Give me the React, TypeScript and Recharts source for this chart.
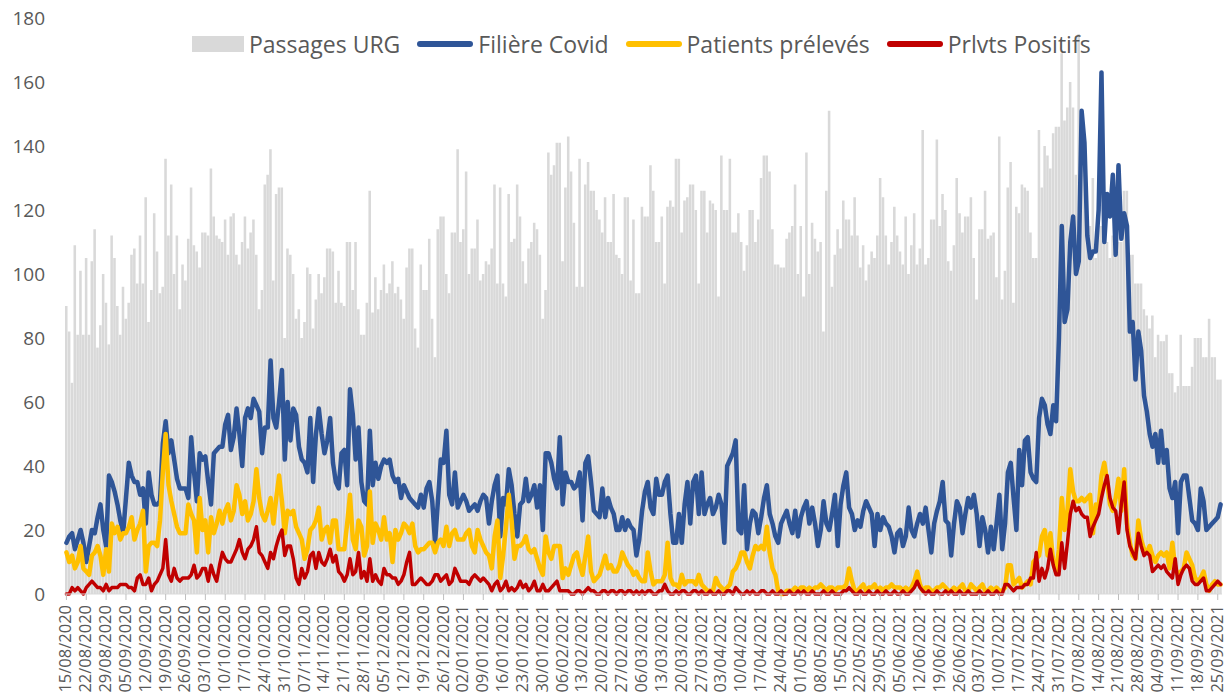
import React from 'react';
import { ComposedChart, Bar, Line, XAxis, YAxis, Legend } from 'recharts';

// First day of the series (15/08/2020); one category per day
const START_DATE = Date.UTC(2020, 7, 15);

const passagesURG = [
  90,82,66,109,81,101,81,105,81,104, 114,77,84,100,91,78,112,105,90,81, 96,86,91,106,108,97,112,97,124,85, 95,119,107,94,96,136,112,128,100,112, 89,103,98,111,127,109,107,102,113,
  113,112,133,118,112,111,110,117,106,118, 119,106,103,110,118,108,113,117,106,89, 95,128,131,139,98,125,127,127,80,108, 106,100,86,89,80,85,102,100,83,92, 100,94,99,108,108,107,91,101,91,90, 110,
  110,95,110,89,81,81,91,126,88,99, 89,95,103,94,97,104,94,96,92,86, 102,108,108,83,77,103,95,95,111,86, 74,114,118,118,100,94,113,113,139,110, 114,132,100,108,108,117,98,100,104,103, 108,
  128,97,127,97,93,125,110,111,128,118, 104,97,108,110,116,114,106,86,95,138, 131,134,141,141,104,127,143,132,116,96, 136,96,128,135,126,126,120,117,113,124, 110,110,125,106,105,100,124,124,98,117, 94,94,
  121,118,118,134,126,110,110,118,97,121, 123,121,136,136,113,123,124,128,128,120, 97,126,126,113,123,122,120,93,137,120, 120,136,113,113,119,110,101,109,120,120, 110,117,130,137,137,132,114,103,103,102,
  102,111,113,115,128,100,115,93,138,100, 116,111,107,110,82,126,151,96,106,114, 108,123,117,117,112,124,112,102,109,98, 103,107,105,112,130,124,112,103,110,121, 112,107,103,118,100,109,119,103,108,145, 103,
  105,117,117,142,115,125,120,104,101,109, 130,119,113,118,118,124,105,92,114,114, 126,111,112,113,99,143,92,101,127,135, 91,121,119,128,127,126,113,105,105,
  145,127,140,137,133,144,146,146,169,148,152,160,
  152,131,175,150,133,115,115,130,105,124, 115,122,110,105,112,110,110,110,126,126, 106,106,97,97,97,89,87,83,87,74, 81,79,79,81,69,69,63,65,81,65, 65,65,71,80,80,80,74,74,86,74, 74,67,67,
];

const filiereCovid = [
  16,18,19,14,17,20,16,10,15,20, 19,24,28,20,15,37,35,32,28,23, 19,30,41,37,35,35,31,33,22,38, 31,28,28,29,47,54,44,48,42,36, 33,33,33,30,49,38,29,44,42,
  43,35,28,44,45,46,46,53,56,45, 49,58,50,40,55,58,55,61,59,57, 44,52,52,73,55,52,60,70,42,60, 48,58,56,46,42,41,38,55,35,50, 58,50,44,48,55,41,35,33,44,45, 34,
  64,56,42,52,35,29,28,51,34,41, 36,40,42,41,42,37,35,36,30,34, 32,30,29,28,27,31,27,33,35,29, 16,29,42,41,51,31,28,38,27,29, 31,29,26,27,28,26,29,31,30,22, 29,
  34,37,18,30,28,39,34,25,18,28, 29,36,29,31,34,27,34,20,44,44, 41,36,33,49,28,38,35,35,33,34, 38,23,41,43,35,26,25,24,33,24, 30,27,25,20,20,24,20,23,21,20, 12,17,
  26,32,35,27,25,36,31,31,35,37, 25,16,16,25,16,28,35,22,35,37, 25,38,25,28,30,25,27,31,28,16, 40,42,44,48,20,19,34,14,22,26, 25,19,24,30,34,25,22,18,16,22,
  24,26,22,19,26,18,24,27,29,22, 27,22,15,20,29,22,20,25,31,15, 28,34,38,27,25,20,23,21,26,29, 27,25,15,25,20,24,22,21,18,13, 19,20,15,18,27,20,18,22,25,22, 27,
  20,13,22,26,29,35,23,22,12,22, 29,27,19,25,30,27,31,25,15,24, 20,13,21,14,22,31,14,22,38,41, 30,20,45,34,48,49,38,36,35,55, 61,59,53,50,59,54,
  80,115,85,89,110,118,100,104,151,141, 112,105,107,107,120,163,110,125,118,131, 106,134,111,119,115,82,85,67,82,76,
  62,57,50,46,50,41,51,41,45,33, 30,35,19,35,37,37,30,23,22,20, 33,29,20,21,22,23,24,28,
];

const patientsPreleves = [
  13,10,12,8,10,15,8,7,6,12, 13,15,12,6,14,7,22,19,21,17, 19,19,21,24,17,20,22,26,7,15, 16,16,15,23,38,50,34,29,25,21, 19,19,19,28,25,23,13,30,20,
  23,13,24,19,22,26,22,26,28,23, 26,34,31,25,29,23,25,29,39,30, 25,23,26,30,22,30,37,29,19,26, 25,26,21,19,17,11,14,20,21,23, 27,17,20,21,16,23,23,14,14,14, 22,
  31,17,14,23,21,12,15,32,16,22, 20,17,24,17,19,10,20,17,19,22, 21,19,22,15,13,14,14,15,16,16, 13,16,17,15,21,15,19,20,17,17, 17,19,20,15,13,20,17,15,13,12, 8,
  18,23,5,12,21,31,23,11,15,15, 16,18,14,13,14,11,8,6,18,13, 11,15,15,15,5,8,6,9,12,13, 9,6,12,18,7,4,5,6,9,12, 8,9,7,7,9,13,11,9,8,6, 7,5,
  4,4,13,7,3,4,4,4,6,16, 5,3,3,2,6,3,4,4,4,3, 6,3,2,1,1,1,5,3,2,1, 2,3,7,8,10,13,13,10,8,12, 15,14,15,14,21,13,8,6,1,0,
  0,1,1,1,2,1,2,2,1,2, 1,2,2,3,2,1,2,2,1,2, 2,2,3,8,4,1,1,2,3,1, 2,2,3,1,2,1,2,2,3,2, 2,2,1,2,1,2,4,7,3,1, 2,
  2,1,1,2,2,3,2,1,1,2, 1,2,3,1,1,3,2,1,2,3, 1,1,2,1,2,1,1,2,9,9, 3,4,5,2,3,4,3,10,11,12, 18,20,12,19,10,7,
  14,30,20,26,39,32,29,29,30,29, 30,31,19,28,27,37,41,35,28,26, 30,36,26,39,22,16,12,11,23,17,
  14,13,15,12,10,12,13,12,13,8, 16,8,6,7,8,13,11,9,5,4, 5,7,3,1,3,4,3,3,
];

const prlvtsPositifs = [
  0,0,2,1,2,1,0,2,3,4, 3,2,2,1,3,1,2,2,2,3, 3,3,2,2,1,5,6,3,3,5, 1,3,4,6,8,17,6,4,8,5, 4,5,5,5,6,9,5,6,8,
  8,4,9,6,4,9,13,11,10,10, 12,14,17,13,11,14,15,17,21,13, 12,10,8,13,11,15,18,20,12,15, 15,11,5,3,8,5,7,12,13,8, 13,10,9,11,14,10,12,7,6,4, 6,
  11,6,7,13,5,7,4,11,4,6, 4,3,8,6,6,5,5,3,4,6, 10,13,3,3,4,5,4,3,3,4, 6,6,4,5,6,3,4,8,6,4, 4,4,3,5,6,5,4,5,4,3, 1,
  3,4,1,2,4,1,2,1,2,4, 2,3,1,2,4,1,1,3,1,1, 2,3,4,1,1,1,1,0,0,1, 1,0,1,2,1,1,0,0,1,1, 0,1,1,0,1,1,0,1,1,0, 1,0,
  1,0,1,1,0,0,1,1,3,1, 0,0,1,0,1,1,0,0,1,1, 0,1,0,0,1,0,0,1,0,0, 1,1,0,2,1,0,0,1,0,1, 0,0,1,1,0,0,1,0,0,1,
  0,0,1,0,0,1,0,1,0,0, 1,0,0,0,1,0,0,1,0,0, 0,1,1,2,1,0,0,1,0,0, 1,0,0,1,0,0,1,0,0,1, 0,0,1,0,0,1,2,4,2,1, 0,
  1,0,0,1,0,0,1,0,1,0, 0,1,0,0,1,0,0,0,1,0, 0,1,0,0,1,0,0,3,3,2, 1,2,2,2,3,3,5,5,13,4, 8,5,8,14,9,6,
  6,16,8,16,25,29,26,27,25,24, 24,18,21,23,25,30,34,37,30,27, 26,19,28,35,20,15,13,11,19,15,
  12,13,12,7,8,9,8,9,7,6, 5,11,3,6,8,9,8,4,3,3, 4,5,1,1,2,3,4,3,
];

const yTicks = [0, 20, 40, 60, 80, 100, 120, 140, 160, 180];

const seriesNames = {
  urg: 'Passages URG',
  covid: 'Filière Covid',
  preleves: 'Patients prélevés',
  positifs: 'Prlvts Positifs',
};

const COLORS = {
  urg: '#D9D9D9',
  covid: '#2F5597',
  preleves: '#FFC000',
  positifs: '#C00000',
  text: '#595959',
};

const pad2 = (n: number) => String(n).padStart(2, '0');

const dates = passagesURG.map((_, i) => {
  const d = new Date(START_DATE + i * 86400000);
  return `${pad2(d.getUTCDate())}/${pad2(d.getUTCMonth() + 1)}/${d.getUTCFullYear()}`;
});

const data = dates.map((date, i) => ({
  date,
  urg: passagesURG[i] ?? null,
  covid: filiereCovid[i] ?? null,
  preleves: patientsPreleves[i] ?? null,
  positifs: prlvtsPositifs[i] ?? null,
}));

const XTick = (props: any) => {
  const { x, y, payload } = props;
  return (
    <text
      x={x}
      y={y}
      transform={`rotate(-90, ${x}, ${y})`}
      textAnchor="end"
      dy="0.3em"
      fontSize={16.5}
      fontFamily="'Open Sans', sans-serif"
      fill={COLORS.text}
    >
      {payload.value}
    </text>
  );
};

const legendItems = [
  { key: 'urg', kind: 'rect' },
  { key: 'covid', kind: 'line' },
  { key: 'preleves', kind: 'line' },
  { key: 'positifs', kind: 'line' },
];

const renderLegend = () => (
  <div
    style={{
      display: 'flex',
      alignItems: 'center',
      paddingLeft: 192,
      height: 34,
      fontFamily: "'Open Sans', sans-serif",
      fontSize: 23,
      color: COLORS.text,
      whiteSpace: 'nowrap',
    }}
  >
    {legendItems.map((it) => (
      <div key={it.key} style={{ display: 'flex', alignItems: 'center', marginRight: 17 }}>
        {it.kind === 'rect' ? (
          <div style={{ width: 52, height: 16, background: (COLORS as any)[it.key] }} />
        ) : (
          <div style={{ width: 56, height: 6, borderRadius: 3, background: (COLORS as any)[it.key] }} />
        )}
        <span style={{ marginLeft: 5 }}>{(seriesNames as any)[it.key]}</span>
      </div>
    ))}
  </div>
);

export default function App() {
  return (
    <div style={{ position: 'absolute', left: 0, top: 0, width: 1227, height: 700, background: '#fff' }}>
      <ComposedChart
        width={1227}
        height={700}
        data={data}
        margin={{ top: 18, right: 5, left: 0, bottom: 0 }}
      >
        <XAxis
          dataKey="date"
          interval={6}
          height={106}
          tick={<XTick />}
          tickSize={6}
          tickMargin={5}
          axisLine={{ stroke: '#D9D9D9' }}
          tickLine={{ stroke: '#BFBFBF' }}
        />
        <YAxis
          domain={[0, 180]}
          ticks={yTicks}
          interval={0}
          width={65}
          axisLine={false}
          tickLine={false}
          tickMargin={14}
          tick={{ fontSize: 19, fill: COLORS.text, fontFamily: "'Open Sans', sans-serif" }}
        />
        <Legend
          layout="horizontal"
          verticalAlign="middle"
          align="center"
          wrapperStyle={{ top: 27, left: 0, width: 1227 }}
          content={renderLegend}
        />
        <Bar dataKey="urg" name={seriesNames.urg} fill={COLORS.urg} barSize={3} isAnimationActive={false} />
        <Line
          dataKey="covid"
          name={seriesNames.covid}
          type="linear"
          stroke={COLORS.covid}
          strokeWidth={4.5}
          strokeLinejoin="round"
          strokeLinecap="round"
          dot={false}
          activeDot={false}
          isAnimationActive={false}
        />
        <Line
          dataKey="preleves"
          name={seriesNames.preleves}
          type="linear"
          stroke={COLORS.preleves}
          strokeWidth={4.5}
          strokeLinejoin="round"
          strokeLinecap="round"
          dot={false}
          activeDot={false}
          isAnimationActive={false}
        />
        <Line
          dataKey="positifs"
          name={seriesNames.positifs}
          type="linear"
          stroke={COLORS.positifs}
          strokeWidth={3.5}
          strokeLinejoin="round"
          strokeLinecap="round"
          dot={false}
          activeDot={false}
          isAnimationActive={false}
        />
      </ComposedChart>
    </div>
  );
}
